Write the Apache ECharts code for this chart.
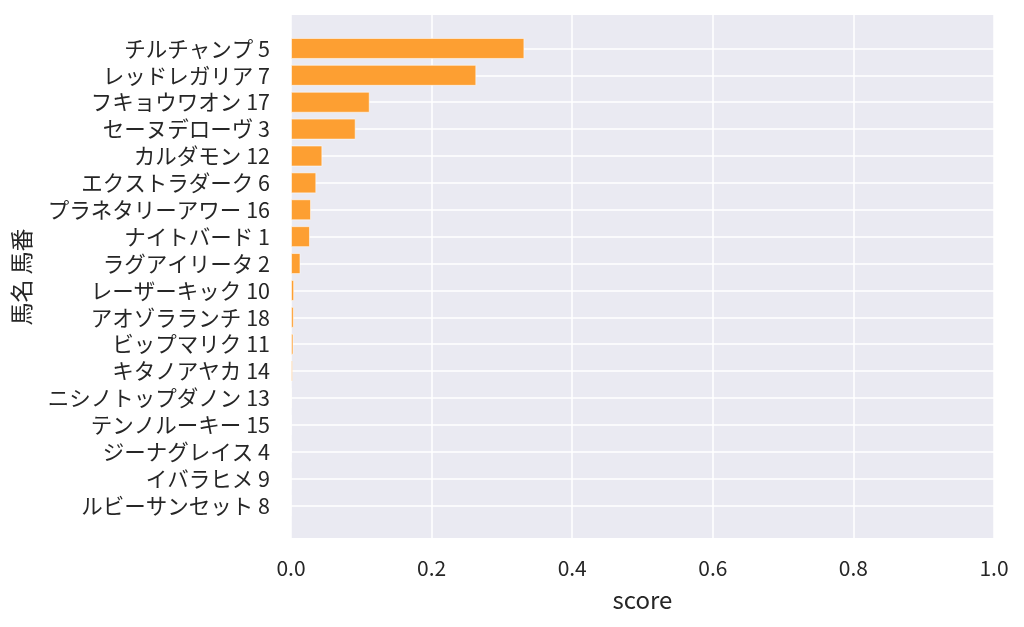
<!DOCTYPE html>
<html><head><meta charset="utf-8">
<script src="https://cdn.jsdelivr.net/npm/echarts@6/dist/echarts.min.js"></script>
<style>html,body{margin:0;padding:0;background:#fff}#c{width:1024px;height:627px}</style>
</head><body><div id="c"></div>
<script>
const horses = ["チルチャンプ 5","レッドレガリア 7","フキョウワオン 17","セーヌデローヴ 3","カルダモン 12","エクストラダーク 6","プラネタリーアワー 16","ナイトバード 1","ラグアイリータ 2","レーザーキック 10","アオゾラランチ 18","ビップマリク 11","キタノアヤカ 14","ニシノトップダノン 13","テンノルーキー 15","ジーナグレイス 4","イバラヒメ 9","ルビーサンセット 8"];
const scores = [0.332,0.2636,0.112,0.092,0.0446,0.036,0.0285,0.027,0.0135,0.0045,0.004,0.0035,0.0025,0.0015,0.001,0.0004,0.0002,0.0001];
const xTicks = [0,0.2,0.4,0.6,0.8,1.0];
const font = '"Noto Sans CJK JP","Noto Sans",sans-serif';
const chart = echarts.init(document.getElementById('c'));
chart.setOption({
  animation:false,
  textStyle:{fontFamily:font},
  grid:[
    {left:291,right:30,top:15,bottom:89,show:true,backgroundColor:'#EAEAF2',borderWidth:0},
    {left:291,right:30,top:35,bottom:108}
  ],
  xAxis:[
    {gridIndex:0,type:'value',min:0,max:1,interval:0.2,
     name:'score',nameLocation:'middle',nameGap:50,
     nameTextStyle:{fontSize:24,color:'#262626',fontFamily:font},
     axisLine:{show:false},axisTick:{show:false},
     axisLabel:{fontSize:21,color:'#262626',margin:20,fontFamily:font,formatter:v=>v.toFixed(1)},
     splitLine:{show:true,lineStyle:{color:'#ffffff',width:1.5}}},
    {gridIndex:1,type:'value',min:0,max:1,show:false,splitLine:{show:false}}
  ],
  yAxis:[
    {gridIndex:0,type:'value',show:false,splitLine:{show:false}},
    {gridIndex:1,type:'category',data:horses,inverse:true,
     name:'馬名 馬番',nameLocation:'middle',nameGap:258,nameRotate:90,
     nameTextStyle:{fontSize:23,color:'#262626',fontFamily:font},
     axisLine:{show:false},axisTick:{show:false,interval:0},
     axisLabel:{fontSize:21.5,color:'#262626',margin:21,interval:0,fontFamily:font},
     splitLine:{show:true,interval:0,alignWithLabel:true,lineStyle:{color:'#ffffff',width:1.5}}}
  ],
  series:[{
    type:'bar',xAxisIndex:1,yAxisIndex:1,data:scores,barWidth:21,
    itemStyle:{color:'#FD9F32',borderColor:'rgba(255,255,255,0.55)',borderWidth:1}
  }]
});
</script></body></html>
